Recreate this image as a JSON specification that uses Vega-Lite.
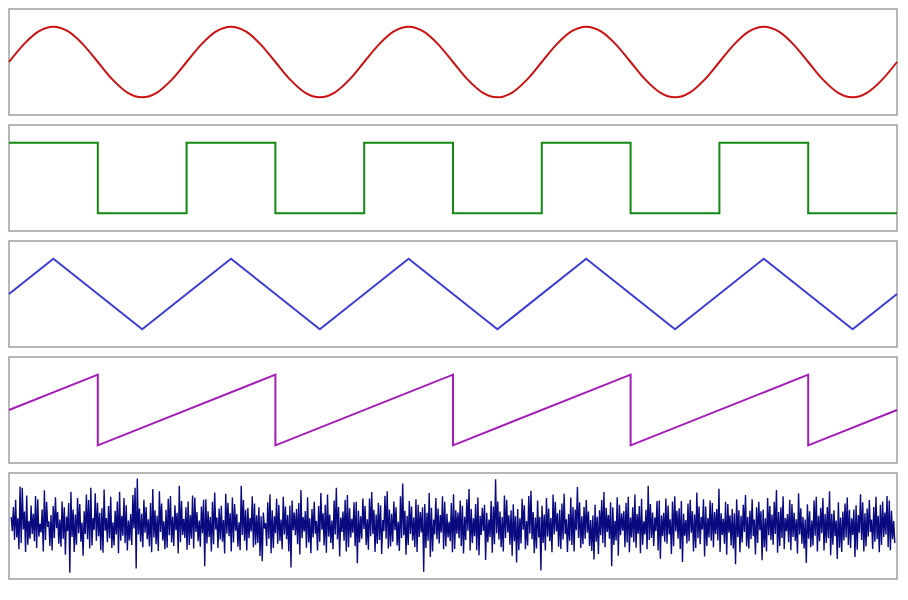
{
  "$schema": "https://vega.github.io/schema/vega-lite/v6.json",
  "background": "white",
  "padding": {"top": 8, "left": 4, "right": 11, "bottom": 0},
  "spacing": 8,
  "config": {"view": {"stroke": "#a0a0a0", "strokeWidth": 1.5}},
  "datasets": {
    "sine": [
      {"p":0,"v":0},{"p":1,"v":0.5},{"p":2,"v":0.866},{"p":3,"v":1},{"p":4,"v":0.866},{"p":5,"v":0.5},{"p":6,"v":0},{"p":7,"v":-0.5},{"p":8,"v":-0.866},{"p":9,"v":-1},{"p":10,"v":-0.866},{"p":11,"v":-0.5},
      {"p":12,"v":0},{"p":13,"v":0.5},{"p":14,"v":0.866},{"p":15,"v":1},{"p":16,"v":0.866},{"p":17,"v":0.5},{"p":18,"v":0},{"p":19,"v":-0.5},{"p":20,"v":-0.866},{"p":21,"v":-1},{"p":22,"v":-0.866},{"p":23,"v":-0.5},
      {"p":24,"v":0},{"p":25,"v":0.5},{"p":26,"v":0.866},{"p":27,"v":1},{"p":28,"v":0.866},{"p":29,"v":0.5},{"p":30,"v":0},{"p":31,"v":-0.5},{"p":32,"v":-0.866},{"p":33,"v":-1},{"p":34,"v":-0.866},{"p":35,"v":-0.5},
      {"p":36,"v":0},{"p":37,"v":0.5},{"p":38,"v":0.866},{"p":39,"v":1},{"p":40,"v":0.866},{"p":41,"v":0.5},{"p":42,"v":0},{"p":43,"v":-0.5},{"p":44,"v":-0.866},{"p":45,"v":-1},{"p":46,"v":-0.866},{"p":47,"v":-0.5},
      {"p":48,"v":0},{"p":49,"v":0.5},{"p":50,"v":0.866},{"p":51,"v":1},{"p":52,"v":0.866},{"p":53,"v":0.5},{"p":54,"v":0},{"p":55,"v":-0.5},{"p":56,"v":-0.866},{"p":57,"v":-1},{"p":58,"v":-0.866},{"p":59,"v":-0.5},{"p":60,"v":0}
    ],
    "square": [
      {"p":0,"v":1},{"p":6,"v":-1},{"p":12,"v":1},{"p":18,"v":-1},{"p":24,"v":1},{"p":30,"v":-1},{"p":36,"v":1},{"p":42,"v":-1},{"p":48,"v":1},{"p":54,"v":-1},{"p":60,"v":-1}
    ],
    "triangle": [
      {"p":0,"v":0},{"p":3,"v":1},{"p":9,"v":-1},{"p":15,"v":1},{"p":21,"v":-1},{"p":27,"v":1},{"p":33,"v":-1},{"p":39,"v":1},{"p":45,"v":-1},{"p":51,"v":1},{"p":57,"v":-1},{"p":60,"v":0}
    ],
    "saw": [
      {"o":0,"p":0,"v":0},{"o":1,"p":6,"v":1},{"o":2,"p":6,"v":-1},{"o":3,"p":18,"v":1},{"o":4,"p":18,"v":-1},{"o":5,"p":30,"v":1},{"o":6,"p":30,"v":-1},{"o":7,"p":42,"v":1},{"o":8,"p":42,"v":-1},{"o":9,"p":54,"v":1},{"o":10,"p":54,"v":-1},{"o":11,"p":60,"v":0}
    ],
    "noise": [
{"i":0,"v":0.21},{"i":1,"v":-0.12},{"i":2,"v":0.45},{"i":3,"v":-0.33},{"i":4,"v":0.62},{"i":5,"v":-0.27},{"i":6,"v":0.18},{"i":7,"v":-0.55},{"i":8,"v":0.93},{"i":9,"v":-0.4},{"i":10,"v":0.9},{"i":11,"v":-0.08},{"i":12,"v":0.34},{"i":13,"v":-0.61},{"i":14,"v":0.72},{"i":15,"v":-0.44},{"i":16,"v":0.12},{"i":17,"v":-0.3},{"i":18,"v":0.48},{"i":19,"v":-0.19},
{"i":20,"v":0.29},{"i":21,"v":-0.36},{"i":22,"v":0.71},{"i":23,"v":-0.52},{"i":24,"v":0.63},{"i":25,"v":-0.25},{"i":26,"v":0.05},{"i":27,"v":-0.15},{"i":28,"v":0.39},{"i":29,"v":-0.6},{"i":30,"v":0.84},{"i":31,"v":-0.33},{"i":32,"v":0.57},{"i":33,"v":-0.02},{"i":34,"v":0.11},{"i":35,"v":-0.47},{"i":36,"v":0.26},{"i":37,"v":-0.58},{"i":38,"v":0.47},{"i":39,"v":-0.28},
{"i":40,"v":0.68},{"i":41,"v":-0.05},{"i":42,"v":0.33},{"i":43,"v":-0.42},{"i":44,"v":0.15},{"i":45,"v":-0.49},{"i":46,"v":0.58},{"i":47,"v":-0.3},{"i":48,"v":0.44},{"i":49,"v":-0.68},{"i":50,"v":0.22},{"i":51,"v":-0.12},{"i":52,"v":0.54},{"i":53,"v":-1.1},{"i":54,"v":0.81},{"i":55,"v":-0.26},{"i":56,"v":0.39},{"i":57,"v":-0.61},{"i":58,"v":0.27},{"i":59,"v":-0.44},
{"i":60,"v":0.66},{"i":61,"v":-0.17},{"i":62,"v":0.52},{"i":63,"v":-0.37},{"i":64,"v":0.08},{"i":65,"v":-0.7},{"i":66,"v":0.35},{"i":67,"v":-0.19},{"i":68,"v":0.74},{"i":69,"v":-0.31},{"i":70,"v":0.61},{"i":71,"v":-0.53},{"i":72,"v":0.9},{"i":73,"v":-0.46},{"i":74,"v":0.19},{"i":75,"v":-0.09},{"i":76,"v":0.77},{"i":77,"v":-0.35},{"i":78,"v":0.55},{"i":79,"v":-0.24},
{"i":80,"v":0.31},{"i":81,"v":-0.57},{"i":82,"v":0.42},{"i":83,"v":-0.63},{"i":84,"v":0.86},{"i":85,"v":-0.11},{"i":86,"v":0.19},{"i":87,"v":-0.38},{"i":88,"v":0.47},{"i":89,"v":-0.29},{"i":90,"v":0.69},{"i":91,"v":-0.52},{"i":92,"v":0.09},{"i":93,"v":-0.46},{"i":94,"v":0.36},{"i":95,"v":-0.2},{"i":96,"v":0.58},{"i":97,"v":-0.64},{"i":98,"v":0.81},{"i":99,"v":-0.35},
{"i":100,"v":0.24},{"i":101,"v":-0.23},{"i":102,"v":0.66},{"i":103,"v":-0.4},{"i":104,"v":0.49},{"i":105,"v":-0.58},{"i":106,"v":0.13},{"i":107,"v":-0.34},{"i":108,"v":0.28},{"i":109,"v":-0.45},{"i":110,"v":0.73},{"i":111,"v":-0.06},{"i":112,"v":0.9},{"i":113,"v":-1.0},{"i":114,"v":1.12},{"i":115,"v":-0.2},{"i":116,"v":0.41},{"i":117,"v":-0.37},{"i":118,"v":0.29},{"i":119,"v":-0.5},
{"i":120,"v":0.62},{"i":121,"v":-0.16},{"i":122,"v":0.45},{"i":123,"v":-0.31},{"i":124,"v":0.16},{"i":125,"v":-0.48},{"i":126,"v":0.54},{"i":127,"v":-0.62},{"i":128,"v":0.87},{"i":129,"v":-0.27},{"i":130,"v":0.37},{"i":131,"v":-0.43},{"i":132,"v":0.24},{"i":133,"v":-0.59},{"i":134,"v":0.82},{"i":135,"v":-0.14},{"i":136,"v":0.53},{"i":137,"v":-0.34},{"i":138,"v":0.11},{"i":139,"v":-0.55},
{"i":140,"v":0.38},{"i":141,"v":-0.51},{"i":142,"v":0.64},{"i":143,"v":-0.22},{"i":144,"v":0.71},{"i":145,"v":-0.39},{"i":146,"v":0.22},{"i":147,"v":-0.47},{"i":148,"v":0.49},{"i":149,"v":-0.1},{"i":150,"v":0.31},{"i":151,"v":-0.65},{"i":152,"v":0.95},{"i":153,"v":-0.38},{"i":154,"v":0.59},{"i":155,"v":-0.21},{"i":156,"v":0.17},{"i":157,"v":-0.28},{"i":158,"v":0.44},{"i":159,"v":-0.56},
{"i":160,"v":0.58},{"i":161,"v":-0.45},{"i":162,"v":0.26},{"i":163,"v":-0.3},{"i":164,"v":0.72},{"i":165,"v":-0.53},{"i":166,"v":0.67},{"i":167,"v":-0.14},{"i":168,"v":0.33},{"i":169,"v":-0.36},{"i":170,"v":0.13},{"i":171,"v":-0.49},{"i":172,"v":0.46},{"i":173,"v":-0.17},{"i":174,"v":0.62},{"i":175,"v":-0.95},{"i":176,"v":0.63},{"i":177,"v":-0.41},{"i":178,"v":0.35},{"i":179,"v":-0.26},
{"i":180,"v":0.21},{"i":181,"v":-0.6},{"i":182,"v":0.57},{"i":183,"v":-0.43},{"i":184,"v":0.79},{"i":185,"v":-0.08},{"i":186,"v":0.2},{"i":187,"v":-0.52},{"i":188,"v":0.41},{"i":189,"v":-0.32},{"i":190,"v":0.48},{"i":191,"v":-0.37},{"i":192,"v":0.14},{"i":193,"v":-0.65},{"i":194,"v":0.76},{"i":195,"v":-0.18},{"i":196,"v":0.55},{"i":197,"v":-0.24},{"i":198,"v":0.3},{"i":199,"v":-0.6},
{"i":200,"v":0.67},{"i":201,"v":-0.39},{"i":202,"v":0.52},{"i":203,"v":-0.11},{"i":204,"v":0.28},{"i":205,"v":-0.49},{"i":206,"v":0.09},{"i":207,"v":-0.57},{"i":208,"v":0.95},{"i":209,"v":-0.21},{"i":210,"v":0.61},{"i":211,"v":-0.35},{"i":212,"v":0.38},{"i":213,"v":-0.58},{"i":214,"v":0.43},{"i":215,"v":-0.29},{"i":216,"v":0.19},{"i":217,"v":-0.13},{"i":218,"v":0.7},{"i":219,"v":-0.5},
{"i":220,"v":0.53},{"i":221,"v":-0.44},{"i":222,"v":0.25},{"i":223,"v":-0.4},{"i":224,"v":0.44},{"i":225,"v":-0.71},{"i":226,"v":0.23},{"i":227,"v":-0.83},{"i":228,"v":0.32},{"i":229,"v":-0.06},{"i":230,"v":0.07},{"i":231,"v":-0.47},{"i":232,"v":0.56},{"i":233,"v":-0.3},{"i":234,"v":0.75},{"i":235,"v":-0.64},{"i":236,"v":0.37},{"i":237,"v":-0.52},{"i":238,"v":0.23},{"i":239,"v":-0.17},
{"i":240,"v":0.64},{"i":241,"v":-0.42},{"i":242,"v":0.5},{"i":243,"v":-0.35},{"i":244,"v":0.15},{"i":245,"v":-0.55},{"i":246,"v":0.69},{"i":247,"v":-0.2},{"i":248,"v":0.46},{"i":249,"v":-0.31},{"i":250,"v":0.26},{"i":251,"v":-0.6},{"i":252,"v":0.48},{"i":253,"v":-0.98},{"i":254,"v":0.6},{"i":255,"v":-0.1},{"i":256,"v":0.32},{"i":257,"v":-0.22},{"i":258,"v":0.4},{"i":259,"v":-0.43},
{"i":260,"v":0.54},{"i":261,"v":-0.67},{"i":262,"v":0.85},{"i":263,"v":-0.29},{"i":264,"v":0.21},{"i":265,"v":-0.13},{"i":266,"v":0.35},{"i":267,"v":-0.51},{"i":268,"v":0.68},{"i":269,"v":-0.39},{"i":270,"v":0.18},{"i":271,"v":-0.64},{"i":272,"v":0.4},{"i":273,"v":-0.27},{"i":274,"v":0.57},{"i":275,"v":-0.18},{"i":276,"v":0.12},{"i":277,"v":-0.58},{"i":278,"v":0.47},{"i":279,"v":-0.37},
{"i":280,"v":0.78},{"i":281,"v":-0.09},{"i":282,"v":0.3},{"i":283,"v":-0.46},{"i":284,"v":0.5},{"i":285,"v":-0.63},{"i":286,"v":0.74},{"i":287,"v":-0.25},{"i":288,"v":0.27},{"i":289,"v":-0.4},{"i":290,"v":0.13},{"i":291,"v":-0.55},{"i":292,"v":0.6},{"i":293,"v":-0.2},{"i":294,"v":0.9},{"i":295,"v":-0.32},{"i":296,"v":0.45},{"i":297,"v":-0.72},{"i":298,"v":0.2},{"i":299,"v":-0.14},
{"i":300,"v":0.34},{"i":301,"v":-0.35},{"i":302,"v":0.62},{"i":303,"v":-0.6},{"i":304,"v":0.73},{"i":305,"v":-0.5},{"i":306,"v":0.42},{"i":307,"v":-0.27},{"i":308,"v":0.17},{"i":309,"v":-0.16},{"i":310,"v":0.56},{"i":311,"v":-0.48},{"i":312,"v":0.57},{"i":313,"v":-0.88},{"i":314,"v":0.36},{"i":315,"v":-0.39},{"i":316,"v":0.23},{"i":317,"v":-0.3},{"i":318,"v":0.65},{"i":319,"v":-0.07},
{"i":320,"v":0.47},{"i":321,"v":-0.45},{"i":322,"v":0.16},{"i":323,"v":-0.56},{"i":324,"v":0.65},{"i":325,"v":-0.24},{"i":326,"v":0.8},{"i":327,"v":-0.19},{"i":328,"v":0.38},{"i":329,"v":-0.61},{"i":330,"v":0.27},{"i":331,"v":-0.42},{"i":332,"v":0.55},{"i":333,"v":-0.33},{"i":334,"v":0.49},{"i":335,"v":-0.66},{"i":336,"v":0.14},{"i":337,"v":-0.12},{"i":338,"v":0.71},{"i":339,"v":-0.3},
{"i":340,"v":0.82},{"i":341,"v":-0.53},{"i":342,"v":0.39},{"i":343,"v":-0.48},{"i":344,"v":0.29},{"i":345,"v":-0.37},{"i":346,"v":0.58},{"i":347,"v":-0.1},{"i":348,"v":0.44},{"i":349,"v":-0.46},{"i":350,"v":0.1},{"i":351,"v":-0.59},{"i":352,"v":0.7},{"i":353,"v":-0.28},{"i":354,"v":1.0},{"i":355,"v":-0.22},{"i":356,"v":0.36},{"i":357,"v":-0.68},{"i":358,"v":0.24},{"i":359,"v":-0.45},
{"i":360,"v":0.59},{"i":361,"v":-0.19},{"i":362,"v":0.46},{"i":363,"v":-0.34},{"i":364,"v":0.2},{"i":365,"v":-0.5},{"i":366,"v":0.63},{"i":367,"v":-0.61},{"i":368,"v":0.5},{"i":369,"v":-0.26},{"i":370,"v":0.33},{"i":371,"v":-0.15},{"i":372,"v":0.44},{"i":373,"v":-1.08},{"i":374,"v":0.52},{"i":375,"v":-0.52},{"i":376,"v":0.31},{"i":377,"v":-0.35},{"i":378,"v":0.78},{"i":379,"v":-0.73},
{"i":380,"v":0.43},{"i":381,"v":-0.6},{"i":382,"v":0.15},{"i":383,"v":-0.2},{"i":384,"v":0.66},{"i":385,"v":-0.31},{"i":386,"v":0.41},{"i":387,"v":-0.41},{"i":388,"v":0.26},{"i":389,"v":-0.15},{"i":390,"v":0.7},{"i":391,"v":-0.55},{"i":392,"v":0.57},{"i":393,"v":-0.48},{"i":394,"v":0.29},{"i":395,"v":-0.27},{"i":396,"v":0.1},{"i":397,"v":-0.36},{"i":398,"v":0.54},{"i":399,"v":-0.62},
{"i":400,"v":0.75},{"i":401,"v":-0.54},{"i":402,"v":0.37},{"i":403,"v":-0.18},{"i":404,"v":0.32},{"i":405,"v":-0.29},{"i":406,"v":0.6},{"i":407,"v":-0.47},{"i":408,"v":0.48},{"i":409,"v":-0.65},{"i":410,"v":0.22},{"i":411,"v":-0.33},{"i":412,"v":0.63},{"i":413,"v":-0.11},{"i":414,"v":0.87},{"i":415,"v":-0.58},{"i":416,"v":0.4},{"i":417,"v":-0.4},{"i":418,"v":0.18},{"i":419,"v":-0.24},
{"i":420,"v":0.52},{"i":421,"v":-0.57},{"i":422,"v":0.67},{"i":423,"v":-0.69},{"i":424,"v":0.24},{"i":425,"v":-0.21},{"i":426,"v":0.43},{"i":427,"v":-0.12},{"i":428,"v":0.5},{"i":429,"v":-0.8},{"i":430,"v":0.31},{"i":431,"v":-0.38},{"i":432,"v":0.15},{"i":433,"v":-0.26},{"i":434,"v":0.59},{"i":435,"v":-0.63},{"i":436,"v":0.46},{"i":437,"v":-0.43},{"i":438,"v":1.1},{"i":439,"v":-0.17},
{"i":440,"v":0.58},{"i":441,"v":-0.32},{"i":442,"v":0.34},{"i":443,"v":-0.5},{"i":444,"v":0.21},{"i":445,"v":-0.6},{"i":446,"v":0.72},{"i":447,"v":-0.28},{"i":448,"v":0.62},{"i":449,"v":-0.15},{"i":450,"v":0.25},{"i":451,"v":-0.44},{"i":452,"v":0.37},{"i":453,"v":-0.7},{"i":454,"v":0.51},{"i":455,"v":-0.36},{"i":456,"v":0.23},{"i":457,"v":-0.86},{"i":458,"v":0.4},{"i":459,"v":-0.57},
{"i":460,"v":0.18},{"i":461,"v":-0.41},{"i":462,"v":0.64},{"i":463,"v":-0.09},{"i":464,"v":0.49},{"i":465,"v":-0.55},{"i":466,"v":0.12},{"i":467,"v":-0.46},{"i":468,"v":0.71},{"i":469,"v":-0.18},{"i":470,"v":0.83},{"i":471,"v":-0.31},{"i":472,"v":0.33},{"i":473,"v":-0.64},{"i":474,"v":0.2},{"i":475,"v":-0.53},{"i":476,"v":0.6},{"i":477,"v":-0.27},{"i":478,"v":0.21},{"i":479,"v":-1.05},
{"i":480,"v":0.48},{"i":481,"v":-0.4},{"i":482,"v":0.27},{"i":483,"v":-0.58},{"i":484,"v":0.66},{"i":485,"v":-0.25},{"i":486,"v":0.41},{"i":487,"v":-0.36},{"i":488,"v":0.19},{"i":489,"v":-0.62},{"i":490,"v":0.74},{"i":491,"v":-0.2},{"i":492,"v":0.57},{"i":493,"v":-0.13},{"i":494,"v":0.3},{"i":495,"v":-0.49},{"i":496,"v":0.38},{"i":497,"v":-0.54},{"i":498,"v":0.53},{"i":499,"v":-0.32},
{"i":500,"v":0.76},{"i":501,"v":-0.19},{"i":502,"v":0.16},{"i":503,"v":-0.61},{"i":504,"v":0.28},{"i":505,"v":-0.35},{"i":506,"v":0.67},{"i":507,"v":-0.45},{"i":508,"v":0.45},{"i":509,"v":-0.6},{"i":510,"v":0.39},{"i":511,"v":-0.1},{"i":512,"v":0.92},{"i":513,"v":-0.28},{"i":514,"v":0.56},{"i":515,"v":-0.52},{"i":516,"v":0.23},{"i":517,"v":-0.43},{"i":518,"v":0.45},{"i":519,"v":-0.3},
{"i":520,"v":0.61},{"i":521,"v":-0.16},{"i":522,"v":0.34},{"i":523,"v":-0.47},{"i":524,"v":0.14},{"i":525,"v":-0.59},{"i":526,"v":0.25},{"i":527,"v":-0.79},{"i":528,"v":0.5},{"i":529,"v":-0.37},{"i":530,"v":0.22},{"i":531,"v":-0.66},{"i":532,"v":0.37},{"i":533,"v":-0.22},{"i":534,"v":0.61},{"i":535,"v":-0.4},{"i":536,"v":0.8},{"i":537,"v":-0.5},{"i":538,"v":0.43},{"i":539,"v":-0.14},
{"i":540,"v":0.26},{"i":541,"v":-0.3},{"i":542,"v":0.56},{"i":543,"v":-0.95},{"i":544,"v":0.44},{"i":545,"v":-0.45},{"i":546,"v":0.12},{"i":547,"v":-0.34},{"i":548,"v":0.68},{"i":549,"v":-0.7},{"i":550,"v":0.5},{"i":551,"v":-0.22},{"i":552,"v":0.3},{"i":553,"v":-0.11},{"i":554,"v":0.35},{"i":555,"v":-0.5},{"i":556,"v":0.55},{"i":557,"v":-0.39},{"i":558,"v":0.69},{"i":559,"v":-0.62},
{"i":560,"v":0.2},{"i":561,"v":-0.27},{"i":562,"v":0.44},{"i":563,"v":-0.38},{"i":564,"v":0.74},{"i":565,"v":-0.51},{"i":566,"v":0.28},{"i":567,"v":-0.18},{"i":568,"v":0.47},{"i":569,"v":-0.64},{"i":570,"v":0.64},{"i":571,"v":-0.44},{"i":572,"v":0.11},{"i":573,"v":-0.2},{"i":574,"v":0.38},{"i":575,"v":-0.55},{"i":576,"v":0.95},{"i":577,"v":-0.33},{"i":578,"v":0.52},{"i":579,"v":-0.28},
{"i":580,"v":0.32},{"i":581,"v":-0.47},{"i":582,"v":0.2},{"i":583,"v":-0.12},{"i":584,"v":0.59},{"i":585,"v":-0.58},{"i":586,"v":0.6},{"i":587,"v":-0.77},{"i":588,"v":0.25},{"i":589,"v":-0.24},{"i":590,"v":0.31},{"i":591,"v":-0.37},{"i":592,"v":0.65},{"i":593,"v":-0.42},{"i":594,"v":0.48},{"i":595,"v":-0.2},{"i":596,"v":0.16},{"i":597,"v":-0.66},{"i":598,"v":0.58},{"i":599,"v":-0.48},
{"i":600,"v":0.7},{"i":601,"v":-0.13},{"i":602,"v":0.36},{"i":603,"v":-0.3},{"i":604,"v":0.42},{"i":605,"v":-0.54},{"i":606,"v":0.59},{"i":607,"v":-0.85},{"i":608,"v":0.29},{"i":609,"v":-0.23},{"i":610,"v":0.14},{"i":611,"v":-0.41},{"i":612,"v":0.53},{"i":613,"v":-0.36},{"i":614,"v":0.62},{"i":615,"v":-0.16},{"i":616,"v":0.35},{"i":617,"v":-0.6},{"i":618,"v":0.27},{"i":619,"v":-0.52},
{"i":620,"v":0.79},{"i":621,"v":-0.29},{"i":622,"v":0.46},{"i":623,"v":-0.43},{"i":624,"v":0.21},{"i":625,"v":-0.08},{"i":626,"v":0.63},{"i":627,"v":-0.72},{"i":628,"v":0.46},{"i":629,"v":-0.47},{"i":630,"v":0.19},{"i":631,"v":-0.27},{"i":632,"v":0.6},{"i":633,"v":-0.35},{"i":634,"v":0.54},{"i":635,"v":-0.5},{"i":636,"v":0.33},{"i":637,"v":-0.19},{"i":638,"v":0.4},{"i":639,"v":-0.34},
{"i":640,"v":0.88},{"i":641,"v":-0.61},{"i":642,"v":0.3},{"i":643,"v":-0.21},{"i":644,"v":0.17},{"i":645,"v":-0.42},{"i":646,"v":0.57},{"i":647,"v":-0.68},{"i":648,"v":0.52},{"i":649,"v":-0.16},{"i":650,"v":0.25},{"i":651,"v":-0.46},{"i":652,"v":0.4},{"i":653,"v":-0.53},{"i":654,"v":0.3},{"i":655,"v":-0.9},{"i":656,"v":0.63},{"i":657,"v":-0.26},{"i":658,"v":0.37},{"i":659,"v":-0.62},
{"i":660,"v":0.24},{"i":661,"v":-0.39},{"i":662,"v":0.5},{"i":663,"v":-0.14},{"i":664,"v":0.73},{"i":665,"v":-0.48},{"i":666,"v":0.21},{"i":667,"v":-0.53},{"i":668,"v":0.36},{"i":669,"v":-0.31},{"i":670,"v":0.63},{"i":671,"v":-0.24},{"i":672,"v":0.15},{"i":673,"v":-0.67},{"i":674,"v":0.44},{"i":675,"v":-0.4},{"i":676,"v":0.57},{"i":677,"v":-0.1},{"i":678,"v":0.35},{"i":679,"v":-0.81},
{"i":680,"v":0.39},{"i":681,"v":-0.5},{"i":682,"v":0.18},{"i":683,"v":-0.6},{"i":684,"v":0.66},{"i":685,"v":-0.22},{"i":686,"v":0.47},{"i":687,"v":-0.33},{"i":688,"v":0.27},{"i":689,"v":-0.44},{"i":690,"v":0.57},{"i":691,"v":-0.19},{"i":692,"v":0.85},{"i":693,"v":-0.63},{"i":694,"v":0.33},{"i":695,"v":-0.47},{"i":696,"v":0.44},{"i":697,"v":-0.28},{"i":698,"v":0.7},{"i":699,"v":-0.55},
{"i":700,"v":0.19},{"i":701,"v":-0.12},{"i":702,"v":0.28},{"i":703,"v":-0.38},{"i":704,"v":0.62},{"i":705,"v":-0.57},{"i":706,"v":0.52},{"i":707,"v":-0.26},{"i":708,"v":0.31},{"i":709,"v":-0.35},{"i":710,"v":0.16},{"i":711,"v":-0.65},{"i":712,"v":0.77},{"i":713,"v":-0.2},{"i":714,"v":0.42},{"i":715,"v":-0.42},{"i":716,"v":0.22},{"i":717,"v":-0.53},{"i":718,"v":0.15},{"i":719,"v":-0.87},
{"i":720,"v":0.51},{"i":721,"v":-0.3},{"i":722,"v":0.35},{"i":723,"v":-0.5},{"i":724,"v":0.13},{"i":725,"v":-0.46},{"i":726,"v":0.6},{"i":727,"v":-0.23},{"i":728,"v":0.69},{"i":729,"v":-0.6},{"i":730,"v":0.24},{"i":731,"v":-0.36},{"i":732,"v":0.43},{"i":733,"v":-0.17},{"i":734,"v":0.66},{"i":735,"v":-0.58},{"i":736,"v":0.28},{"i":737,"v":-0.4},{"i":738,"v":0.45},{"i":739,"v":-0.29},
{"i":740,"v":0.82},{"i":741,"v":-0.69},{"i":742,"v":0.29},{"i":743,"v":-0.44},{"i":744,"v":0.37},{"i":745,"v":-0.24},{"i":746,"v":0.13},{"i":747,"v":-0.78},{"i":748,"v":0.56},{"i":749,"v":-0.51},{"i":750,"v":0.2},{"i":751,"v":-0.61},{"i":752,"v":0.34},{"i":753,"v":-0.34},{"i":754,"v":0.53},{"i":755,"v":-0.27},{"i":756,"v":0.67},{"i":757,"v":-0.45},{"i":758,"v":0.38},{"i":759,"v":-0.52},
{"i":760,"v":0.18},{"i":761,"v":-0.21},{"i":762,"v":0.39},{"i":763,"v":-0.73},{"i":764,"v":0.49},{"i":765,"v":-0.56},{"i":766,"v":0.26},{"i":767,"v":-0.16},{"i":768,"v":0.75},{"i":769,"v":-0.33},{"i":770,"v":0.56},{"i":771,"v":-0.6},{"i":772,"v":0.3},{"i":773,"v":-0.48},{"i":774,"v":0.41},{"i":775,"v":-0.25},{"i":776,"v":0.61},{"i":777,"v":-0.14},{"i":778,"v":0.15},{"i":779,"v":-0.54},
{"i":780,"v":0.45},{"i":781,"v":-0.37},{"i":782,"v":0.69},{"i":783,"v":-0.31},{"i":784,"v":0.24},{"i":785,"v":-0.62},{"i":786,"v":0.5},{"i":787,"v":-0.45},{"i":788,"v":0.58},{"i":789,"v":-0.26},{"i":790,"v":0.32},{"i":791,"v":-0.2},{"i":792,"v":0.71},{"i":793,"v":-0.5},{"i":794,"v":0.6},{"i":795,"v":-0.57},{"i":796,"v":0.36},{"i":797,"v":-0.31},{"i":798,"v":0.12},{"i":799,"v":-0.4}
    ]
  },
  "vconcat": [
    {
      "width": 888, "height": 106,
      "data": {"name": "sine"},
      "mark": {"type": "line", "color": "#cc1111", "strokeWidth": 2, "interpolate": "monotone"},
      "encoding": {
        "x": {"field": "p", "type": "quantitative", "axis": null, "scale": {"domain": [0, 60], "nice": false}},
        "y": {"field": "v", "type": "quantitative", "axis": null, "scale": {"domain": [-1.5, 1.5], "nice": false}}
      }
    },
    {
      "width": 888, "height": 106,
      "data": {"name": "square"},
      "mark": {"type": "line", "color": "#128a12", "strokeWidth": 2, "interpolate": "step-after"},
      "encoding": {
        "x": {"field": "p", "type": "quantitative", "axis": null, "scale": {"domain": [0, 60], "nice": false}},
        "y": {"field": "v", "type": "quantitative", "axis": null, "scale": {"domain": [-1.5, 1.5], "nice": false}}
      }
    },
    {
      "width": 888, "height": 106,
      "data": {"name": "triangle"},
      "mark": {"type": "line", "color": "#3c3cd8", "strokeWidth": 2},
      "encoding": {
        "x": {"field": "p", "type": "quantitative", "axis": null, "scale": {"domain": [0, 60], "nice": false}},
        "y": {"field": "v", "type": "quantitative", "axis": null, "scale": {"domain": [-1.5, 1.5], "nice": false}}
      }
    },
    {
      "width": 888, "height": 106,
      "data": {"name": "saw"},
      "mark": {"type": "line", "color": "#a41cb8", "strokeWidth": 2},
      "encoding": {
        "x": {"field": "p", "type": "quantitative", "axis": null, "scale": {"domain": [0, 60], "nice": false}},
        "y": {"field": "v", "type": "quantitative", "axis": null, "scale": {"domain": [-1.5, 1.5], "nice": false}},
        "order": {"field": "o", "type": "quantitative"}
      }
    },
    {
      "width": 888, "height": 106,
      "data": {"name": "noise"},
      "mark": {"type": "line", "color": "#0a0a80", "strokeWidth": 1.4},
      "encoding": {
        "x": {"field": "i", "type": "quantitative", "axis": null, "scale": {"domain": [-2, 801], "nice": false}},
        "y": {"field": "v", "type": "quantitative", "axis": null, "scale": {"domain": [-1.25, 1.25], "nice": false}}
      }
    }
  ]
}
